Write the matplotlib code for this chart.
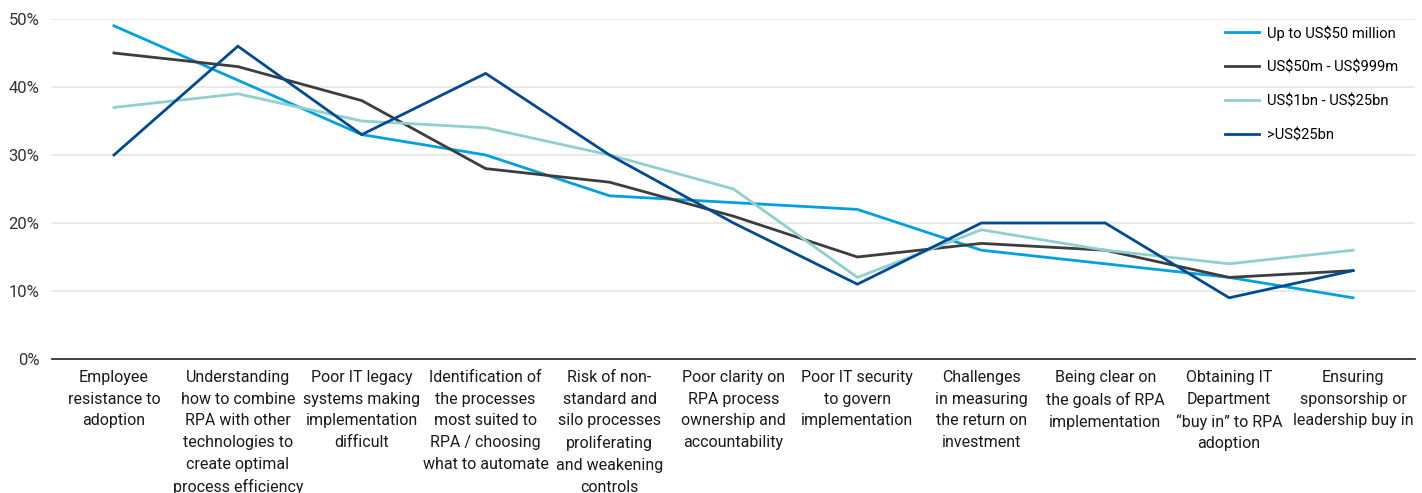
import matplotlib
matplotlib.use("Agg")
import matplotlib.pyplot as plt
from matplotlib.ticker import FuncFormatter

plt.rcParams['font.family'] = ['Roboto', 'DejaVu Sans']

categories = [
    "Employee\nresistance to\nadoption",
    "Understanding\nhow to combine\nRPA with other\ntechnologies to\ncreate optimal\nprocess efficiency",
    "Poor IT legacy\nsystems making\nimplementation\ndifficult",
    "Identification of\nthe processes\nmost suited to\nRPA / choosing\nwhat to automate",
    "Risk of non-\nstandard and\nsilo processes\nproliferating\nand weakening\ncontrols",
    "Poor clarity on\nRPA process\nownership and\naccountability",
    "Poor IT security\nto govern\nimplementation",
    "Challenges\nin measuring\nthe return on\ninvestment",
    "Being clear on\nthe goals of RPA\nimplementation",
    "Obtaining IT\nDepartment\n\u201cbuy in\u201d to RPA\nadoption",
    "Ensuring\nsponsorship or\nleadership buy in",
]

up_to_50m = [49, 41, 33, 30, 24, 23, 22, 16, 14, 12, 9]
m50_999 = [45, 43, 38, 28, 26, 21, 15, 17, 16, 12, 13]
bn1_25 = [37, 39, 35, 34, 30, 25, 12, 19, 16, 14, 16]
over_25bn = [30, 46, 33, 42, 30, 20, 11, 20, 20, 9, 13]

series = [
    (r"Up to US\$50 million", up_to_50m, "#00A0E3"),
    (r"US\$50m - US\$999m", m50_999, "#3D3D3D"),
    (r"US\$1bn - US\$25bn", bn1_25, "#8FD0CC"),
    (r">US\$25bn", over_25bn, "#004A93"),
]

fig = plt.figure(figsize=(14.22, 4.93), dpi=100)
ax = fig.add_axes([52 / 1422, 1 - 359 / 493, (1415 - 52) / 1422, 340 / 493])

x = list(range(len(categories)))
for name, vals, col in series:
    ax.plot(x, vals, color=col, lw=2.0, label=name, solid_joinstyle='miter')

ax.set_xlim(-0.5, len(categories) - 0.5)
ax.set_ylim(0, 50)
ax.set_yticks([0, 10, 20, 30, 40, 50])
ax.yaxis.set_major_formatter(FuncFormatter(lambda v, p: f"{v:.0f}%"))
ax.grid(axis='y', color='#E9E9E9', lw=1.4)
ax.set_axisbelow(True)
for s in ['top', 'right', 'left']:
    ax.spines[s].set_visible(False)
ax.spines['bottom'].set_color('#333333')
ax.spines['bottom'].set_linewidth(1.3)

ax.set_xticks(x)
ax.set_xticklabels(categories, fontsize=11.5, color='#1a1a1a', linespacing=1.55, va='top')
ax.tick_params(axis='x', length=0, pad=8)
ax.tick_params(axis='y', length=0, pad=9, labelsize=12, labelcolor='#333333')

leg = ax.legend(loc='upper left', bbox_to_anchor=((1225 - 52) / 1363, 0.982),
                bbox_transform=ax.transAxes, frameon=False, fontsize=10.6,
                borderpad=0, borderaxespad=0,
                handlelength=2.3, handletextpad=0.55, labelspacing=1.35)

fig.savefig("out.png", dpi=100)
